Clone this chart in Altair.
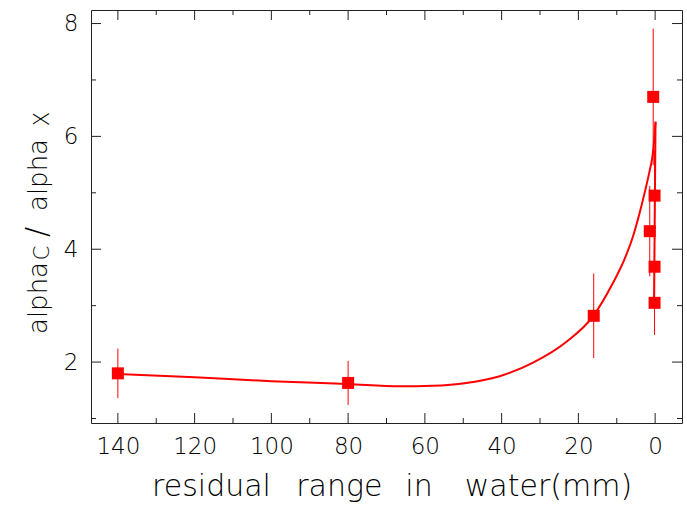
import altair as alt
import pandas as pd

# ---- data ----
x_pts = [140, 80, 16.0, 0.5, 0.15, 1.4, 0.15, 0.15]
y_pts = [1.80, 1.63, 2.82, 6.70, 4.95, 4.32, 3.69, 3.05]
y_err = [0.44, 0.39, 0.75, 1.21, 0.80, 0.80, 0.60, 0.57]

# fitted curve, rising branch
curve_x = [140, 120, 100, 80, 66.5, 58, 49.2, 40.5, 31.8, 23.1, 16.2, 11.0, 8.0, 5.8, 4.1, 3.2,
           1.46, 0.76, 0.4, 0.15, -0.1]
curve_y = [1.79, 1.73, 1.66, 1.61, 1.57, 1.58, 1.63, 1.75, 1.99, 2.36, 2.81, 3.40, 3.82, 4.22, 4.63, 4.87,
           5.38, 5.62, 5.82, 6.02, 6.26]
# fitted curve, falling branch at the end
drop_x = [-0.1, 0.3]
drop_y = [6.26, 2.96]

x_major = [0, 20, 40, 60, 80, 100, 120, 140]
x_minor = [10, 30, 50, 70, 90, 110, 130]
y_major = [2, 4, 6, 8]
y_minor = [1, 3, 5, 7]

pts = pd.DataFrame({"x": x_pts, "y": y_pts, "e": y_err})
curve = pd.DataFrame({"x": curve_x, "y": curve_y, "i": list(range(len(curve_x)))})
drop = pd.DataFrame({"x": drop_x, "y": drop_y, "i": list(range(len(drop_x)))})
xmaj = pd.DataFrame({"v": x_major})
xmin = pd.DataFrame({"v": x_minor})
ymaj = pd.DataFrame({"v": y_major})
ymin = pd.DataFrame({"v": y_minor})
dummy = pd.DataFrame({"d": [0]})

W, H = 591, 413
RED = "#ff0000"
FRAME = "#222222"
FONT = "DejaVu Sans"
FW = 200

xs = alt.Scale(domain=[-7, 147], reverse=True, nice=False, zero=False)
ys = alt.Scale(domain=[0.92, 8.24], nice=False, zero=False)
xaxis = alt.Axis(values=x_major, ticks=False, tickSize=0, domain=False, grid=False,
                 labelFont=FONT, labelFontWeight=FW, labelFontSize=23, labelColor="black",
                 labelPadding=12, title=None)
yaxis = alt.Axis(values=y_major, ticks=False, tickSize=0, domain=False, grid=False,
                 labelFont=FONT, labelFontWeight=FW, labelFontSize=23, labelColor="black",
                 labelPadding=13, title=None)


def X(f):
    return alt.X(f, type="quantitative", scale=xs, axis=xaxis)


def Y(f):
    return alt.Y(f, type="quantitative", scale=ys, axis=yaxis)


line = alt.Chart(curve).mark_line(color=RED, strokeWidth=2, clip=True, interpolate="monotone").encode(
    x=X("x"), y=Y("y"), order=alt.Order("i:Q"))
line2 = alt.Chart(drop).mark_line(color=RED, strokeWidth=2, clip=True).encode(
    x=X("x"), y=Y("y"), order=alt.Order("i:Q"))

errs = alt.Chart(pts).transform_calculate(lo="datum.y - datum.e", hi="datum.y + datum.e").mark_rule(
    color=RED, strokeWidth=1).encode(x=X("x"), y=Y("lo"), y2="hi:Q")

squares = alt.Chart(pts).mark_square(size=144, color=RED, opacity=1, filled=True).encode(
    x=X("x"), y=Y("y"))

tk = dict(color=FRAME, strokeWidth=1)
xb_maj = alt.Chart(xmaj).mark_rule(**tk).encode(x=X("v"), y=alt.value(H), y2=alt.value(H - 10))
xb_min = alt.Chart(xmin).mark_rule(**tk).encode(x=X("v"), y=alt.value(H), y2=alt.value(H - 5))
xt_maj = alt.Chart(xmaj).mark_rule(**tk).encode(x=X("v"), y=alt.value(0), y2=alt.value(10))
xt_min = alt.Chart(xmin).mark_rule(**tk).encode(x=X("v"), y=alt.value(0), y2=alt.value(5))
yl_maj = alt.Chart(ymaj).mark_rule(**tk).encode(y=Y("v"), x=alt.value(0), x2=alt.value(10))
yl_min = alt.Chart(ymin).mark_rule(**tk).encode(y=Y("v"), x=alt.value(0), x2=alt.value(5))
yr_maj = alt.Chart(ymaj).mark_rule(**tk).encode(y=Y("v"), x=alt.value(W), x2=alt.value(W - 10))
yr_min = alt.Chart(ymin).mark_rule(**tk).encode(y=Y("v"), x=alt.value(W), x2=alt.value(W - 5))


def txt(s, x, y, size, angle=0):
    return alt.Chart(dummy).mark_text(text=s, font=FONT, fontWeight=FW, fontSize=size, color="black",
                                      align="center", baseline="alphabetic", angle=angle).encode(
        x=alt.value(x), y=alt.value(y))


ytitle = [
    txt("alpha", -44, 288, 26, 270),
    txt("C", -42, 243, 21, 270),
    txt("/", -44, 222, 30, 270),
    txt("alpha", -44, 165, 26, 270),
    txt("X", -42, 109, 21, 270),
]
xtitle = [
    txt("residual", 120.5, 486, 30),
    txt("range", 248.3, 486, 30),
    txt("in", 328, 486, 30),
    txt("water(mm)", 457.5, 486, 30),
]

chart = alt.layer(
    xb_maj, xb_min, xt_maj, xt_min, yl_maj, yl_min, yr_maj, yr_min,
    line, line2, errs, squares, *ytitle, *xtitle
).properties(
    width=W, height=H,
    autosize=alt.AutoSizeParams(type="none"),
    padding={"left": 91, "top": 10, "right": 5, "bottom": 82},
).configure_view(stroke=FRAME, strokeWidth=1)

chart.save("out.html", embed_options={"renderer": "svg", "actions": False})
